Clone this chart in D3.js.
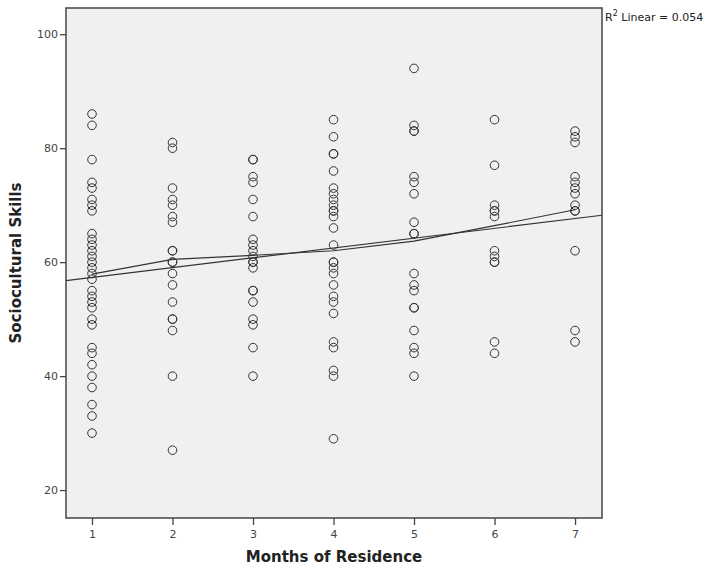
<!DOCTYPE html>
<html>
  <head>
    <meta charset="utf-8">
    <title>Sociocultural Skills by Months of Residence</title>
    <script src="https://d3js.org/d3.v7.min.js"></script>
    <style>
      body { margin: 0; background: #fff; }
      text { font-family: "DejaVu Sans", sans-serif; }
    </style>
  </head>
  <body>
    <script>
      // Months of residence (x) and the skill scores seen in each column
      var months = [1, 2, 3, 4, 5, 6, 7];
      var scores = [
        [86, 84, 78, 74, 73, 71, 70, 69, 65, 64, 63, 62, 61, 60, 59, 58, 57, 55, 54, 53, 52, 50, 49, 45, 44, 42, 40, 38, 35, 33, 30],
        [81, 80, 73, 71, 70, 68, 67, 62, 62, 60, 60, 58, 56, 53, 50, 50, 48, 40, 27],
        [78, 78, 75, 74, 71, 68, 64, 63, 62, 61, 60, 60, 59, 55, 55, 53, 50, 49, 45, 40],
        [85, 82, 79, 79, 76, 73, 72, 71, 70, 69, 69, 68, 66, 63, 60, 60, 59, 58, 56, 54, 53, 51, 46, 45, 41, 40, 29],
        [94, 84, 83, 83, 75, 74, 72, 67, 65, 65, 58, 56, 55, 52, 52, 48, 45, 44, 40],
        [85, 77, 70, 69, 69, 68, 62, 61, 60, 60, 46, 44],
        [83, 82, 81, 75, 74, 73, 72, 70, 69, 69, 62, 48, 46]
      ];
      // interpolation line through the column means
      var meanLine = [57.9, 60.5, 61.2, 62.0, 63.7, 66.4, 69.2];
      var yTicks = [20, 40, 60, 80, 100];
      var r2Label = "0.054";

      var W = 715, H = 569;
      var plot = {left: 66, right: 602, top: 8, bottom: 518};

      var svg = d3.select("body").append("svg")
        .attr("width", W)
        .attr("height", H);

      var x = d3.scaleLinear().domain([0.677, 7.335]).range([plot.left, plot.right]);
      var y = d3.scaleLinear().domain([15.1, 104.6]).range([plot.bottom, plot.top]);

      // flatten into points
      var points = [];
      months.forEach(function(m, i) {
        scores[i].forEach(function(s) { points.push({m: m, s: s}); });
      });

      // plot background
      svg.append("rect")
        .attr("x", plot.left)
        .attr("y", plot.top)
        .attr("width", plot.right - plot.left)
        .attr("height", plot.bottom - plot.top)
        .attr("fill", "#f0f0f0");

      // axes
      var yAxis = svg.append("g")
        .attr("transform", "translate(" + plot.left + ",0)")
        .call(d3.axisLeft(y).tickValues(yTicks).tickSize(6).tickSizeOuter(0));
      var xAxis = svg.append("g")
        .attr("transform", "translate(0," + plot.bottom + ")")
        .call(d3.axisBottom(x).tickValues(months).tickFormat(d3.format("d")).tickSize(7).tickSizeOuter(0));

      [xAxis, yAxis].forEach(function(g) {
        g.select(".domain").remove();
        g.selectAll("line").attr("stroke", "#444").attr("stroke-width", 1.3);
        g.selectAll("text")
          .attr("fill", "#444")
          .style("font-size", "11px");
      });
      yAxis.selectAll("text").attr("x", -8);
      xAxis.selectAll("text").attr("y", 12);

      // least squares fit from the points
      var mx = d3.mean(points, function(d) { return d.m; });
      var my = d3.mean(points, function(d) { return d.s; });
      var sxy = d3.sum(points, function(d) { return (d.m - mx) * (d.s - my); });
      var sxx = d3.sum(points, function(d) { return (d.m - mx) * (d.m - mx); });
      var slope = sxy / sxx, icpt = my - slope * mx;
      var xd = x.domain();

      var plotArea = svg.append("g");

      plotArea.append("line")
        .attr("x1", x(xd[0])).attr("y1", y(icpt + slope * xd[0]))
        .attr("x2", x(xd[1])).attr("y2", y(icpt + slope * xd[1]))
        .attr("stroke", "#333")
        .attr("stroke-width", 1.2);

      plotArea.append("path")
        .datum(months.map(function(m, i) { return [m, meanLine[i]]; }))
        .attr("fill", "none")
        .attr("stroke", "#333")
        .attr("stroke-width", 1.2)
        .attr("d", d3.line()
          .x(function(d) { return x(d[0]); })
          .y(function(d) { return y(d[1]); }));

      plotArea.selectAll("circle")
        .data(points)
        .enter()
        .append("circle")
        .attr("cx", function(d) { return x(d.m); })
        .attr("cy", function(d) { return y(d.s); })
        .attr("r", 4.3)
        .attr("fill", "none")
        .attr("stroke", "#333")
        .attr("stroke-width", 1);

      // frame
      svg.append("rect")
        .attr("x", plot.left)
        .attr("y", plot.top)
        .attr("width", plot.right - plot.left)
        .attr("height", plot.bottom - plot.top)
        .attr("fill", "none")
        .attr("stroke", "#444")
        .attr("stroke-width", 1.5);

      // axis titles
      svg.append("text")
        .attr("x", (plot.left + plot.right) / 2)
        .attr("y", 562)
        .attr("text-anchor", "middle")
        .attr("fill", "#222")
        .style("font-size", "15px")
        .style("font-weight", "bold")
        .text("Months of Residence");

      svg.append("text")
        .attr("transform", "translate(21," + ((plot.top + plot.bottom) / 2) + ") rotate(-90)")
        .attr("text-anchor", "middle")
        .attr("fill", "#222")
        .style("font-size", "15px")
        .style("font-weight", "bold")
        .text("Sociocultural Skills");

      // R squared label
      var r2 = svg.append("text")
        .attr("x", 605)
        .attr("y", 21)
        .attr("fill", "#222")
        .style("font-size", "11px");
      r2.append("tspan").text("R");
      r2.append("tspan").attr("dy", -5).style("font-size", "8px").text("2");
      r2.append("tspan").attr("dy", 5).text(" Linear = " + r2Label);
    </script>
  </body>
</html>
